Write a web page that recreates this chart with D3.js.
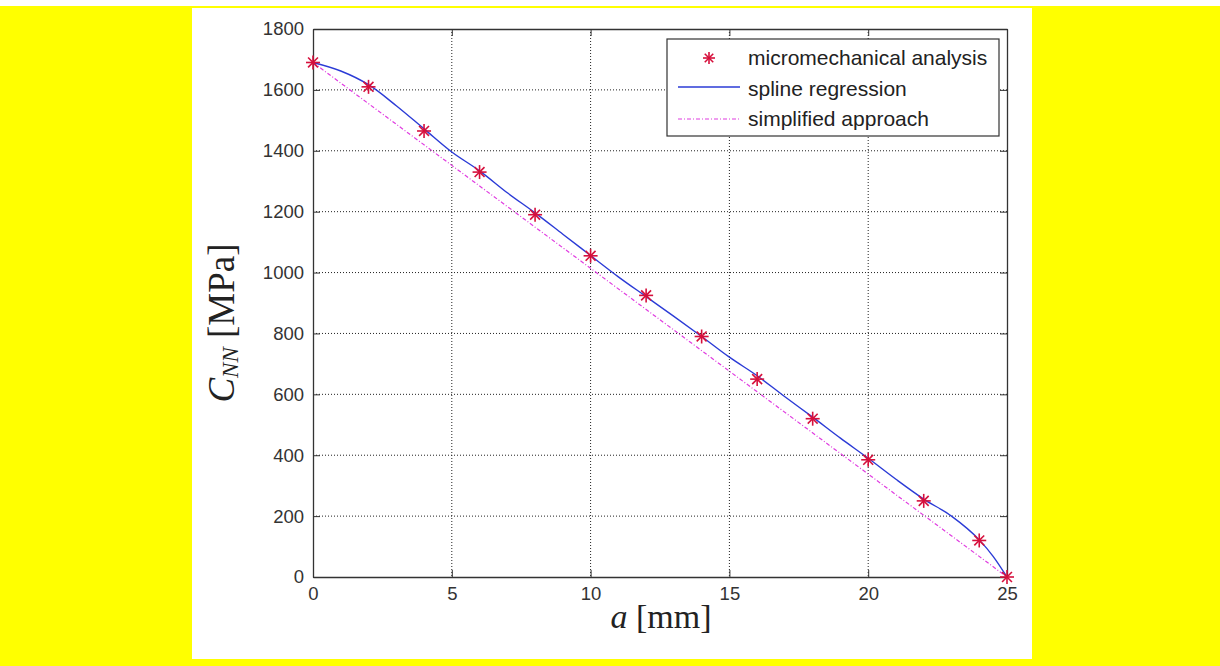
<!DOCTYPE html>
<html>
<head>
<meta charset="utf-8">
<script src="https://cdn.jsdelivr.net/npm/d3@7/dist/d3.min.js"></script>
<style>
  html, body { margin: 0; padding: 0; background: #fff; }
  svg { display: block; }
</style>
</head>
<body>
<svg id="chart" width="1220" height="666"></svg>
<script>
// Crack length a [mm] and normal stiffness C_NN [MPa]
const analysisA = [0, 2, 4, 6, 8, 10, 12, 14, 16, 18, 20, 22, 24, 25];
const analysisC = [1690, 1610, 1465, 1330, 1190, 1055, 925, 790, 650, 520, 385, 250, 120, 0];

const splineA = [0, 1, 2, 3, 4, 5, 6, 7, 8, 9, 10, 11, 12, 13, 14, 15, 16, 17, 18, 19, 20, 21, 22, 23, 24, 24.5, 25];
const splineC = [1690, 1662, 1617, 1548, 1472, 1396, 1334, 1262, 1196, 1126, 1056, 986, 921, 856, 790, 722, 661, 592, 525, 456, 390, 321, 256, 200, 122, 68, 0];

const simplifiedA = [0, 5, 10, 15, 20, 25];
const simplifiedC = [1690, 1352, 1014, 676, 338, 0];

const xTicks = [0, 5, 10, 15, 20, 25];
const yTicks = [0, 200, 400, 600, 800, 1000, 1200, 1400, 1600, 1800];

const legendLabels = ["micromechanical analysis", "spline regression", "simplified approach"];

const svg = d3.select("#chart");
const W = 1220, H = 666;

// page background
svg.append("rect").attr("x", 0).attr("y", 0).attr("width", W).attr("height", H).attr("fill", "#fff");
svg.append("rect").attr("x", 0).attr("y", 6).attr("width", W).attr("height", H - 6).attr("fill", "#ffff00");
svg.append("rect").attr("x", 192).attr("y", 8).attr("width", 840).attr("height", 651).attr("fill", "#fff");

const pl = 313, pr = 1007, pt = 29, pb = 577;
const x = d3.scaleLinear().domain([0, 25]).range([pl, pr]);
const y = d3.scaleLinear().domain([0, 1800]).range([pb, pt]);

const g = svg.append("g");

// grid
g.selectAll(".gx").data(xTicks.slice(1, -1)).enter().append("line")
  .attr("x1", d => x(d)).attr("x2", d => x(d)).attr("y1", pt).attr("y2", pb)
  .attr("stroke", "#222").attr("stroke-width", 1).attr("stroke-dasharray", "1,2");
g.selectAll(".gy").data(yTicks.slice(1, -1)).enter().append("line")
  .attr("x1", pl).attr("x2", pr).attr("y1", d => y(d)).attr("y2", d => y(d))
  .attr("stroke", "#222").attr("stroke-width", 1).attr("stroke-dasharray", "1,2");

// axes (ticks inside, on all four sides)
const tickFont = "Arial, 'Liberation Sans', sans-serif";
const fmt = d3.format("d");
const axB = g.append("g").attr("transform", `translate(0,${pb})`)
  .call(d3.axisBottom(x).tickValues(xTicks).tickFormat(fmt).tickSizeInner(-7).tickSizeOuter(0).tickPadding(10));
const axT = g.append("g").attr("transform", `translate(0,${pt})`)
  .call(d3.axisTop(x).tickValues(xTicks).tickSizeInner(-7).tickSizeOuter(0).tickFormat(""));
const axL = g.append("g").attr("transform", `translate(${pl},0)`)
  .call(d3.axisLeft(y).tickValues(yTicks).tickFormat(fmt).tickSizeInner(-7).tickSizeOuter(0).tickPadding(9));
const axR = g.append("g").attr("transform", `translate(${pr},0)`)
  .call(d3.axisRight(y).tickValues(yTicks).tickSizeInner(-7).tickSizeOuter(0).tickFormat(""));
[axB, axT, axL, axR].forEach(a => {
  a.select(".domain").attr("stroke", "#333").attr("stroke-width", 1.3);
  a.selectAll(".tick line").attr("stroke", "#333").attr("stroke-width", 1);
  a.selectAll("text").attr("font-family", tickFont).attr("font-size", 18.5).attr("fill", "#333");
});

// simplified approach (dash-dot magenta)
const line = d3.line().x(d => x(d[0])).y(d => y(d[1]));
g.append("path")
  .datum(simplifiedA.map((a, i) => [a, simplifiedC[i]]))
  .attr("d", line).attr("fill", "none")
  .attr("stroke", "#e03ce0").attr("stroke-width", 1.2).attr("stroke-dasharray", "4,2,1,2");

// spline regression (blue)
g.append("path")
  .datum(splineA.map((a, i) => [a, splineC[i]]))
  .attr("d", line.curve(d3.curveMonotoneX)).attr("fill", "none")
  .attr("stroke", "#2b3bd6").attr("stroke-width", 1.4);

// asterisk marker
function star(sel, cx, cy, r) {
  const gg = sel.append("g").attr("transform", `translate(${cx},${cy})`);
  const d = r * Math.SQRT1_2;
  [[-r, 0, r, 0], [0, -r, 0, r], [-d, -d, d, d], [-d, d, d, -d]].forEach(s => {
    gg.append("line").attr("x1", s[0]).attr("y1", s[1]).attr("x2", s[2]).attr("y2", s[3])
      .attr("stroke", "#d6103c").attr("stroke-width", 1.6);
  });
}
analysisA.forEach((a, i) => star(g, x(a), y(analysisC[i]), 7));

// legend
const lg = g.append("g");
lg.append("rect").attr("x", 667).attr("y", 39).attr("width", 332).attr("height", 97)
  .attr("fill", "#fff").attr("stroke", "#333").attr("stroke-width", 1.2);
const rows = [58, 89, 119];
star(lg, 709, rows[0], 6);
lg.append("line").attr("x1", 678).attr("x2", 740).attr("y1", rows[1] - 2).attr("y2", rows[1] - 2)
  .attr("stroke", "#2b3bd6").attr("stroke-width", 1.4);
lg.append("line").attr("x1", 678).attr("x2", 740).attr("y1", rows[2]).attr("y2", rows[2])
  .attr("stroke", "#e03ce0").attr("stroke-width", 1.2).attr("stroke-dasharray", "4,2,1,2");
lg.selectAll(".lt").data(legendLabels).enter().append("text")
  .attr("x", 748).attr("y", (d, i) => rows[i]).attr("dy", "0.35em")
  .attr("font-family", tickFont).attr("font-size", 21).attr("fill", "#222")
  .text(d => d);

// axis titles (serif, math style)
const serif = "'Liberation Serif', 'DejaVu Serif', serif";
const xt = svg.append("text").attr("x", 661).attr("y", 628).attr("text-anchor", "middle")
  .attr("font-family", serif).attr("font-size", 34).attr("fill", "#222");
xt.append("tspan").attr("font-style", "italic").text("a");
xt.append("tspan").text(" [mm]");

const yt = svg.append("text").attr("transform", "translate(234,323) rotate(-90)")
  .attr("text-anchor", "middle").attr("font-family", serif).attr("font-size", 37).attr("fill", "#222");
yt.append("tspan").attr("font-style", "italic").text("C");
yt.append("tspan").attr("font-style", "italic").attr("font-size", 23).attr("dy", 4).text("NN");
yt.append("tspan").attr("dy", -4).text(" [MPa]");
</script>
</body>
</html>
